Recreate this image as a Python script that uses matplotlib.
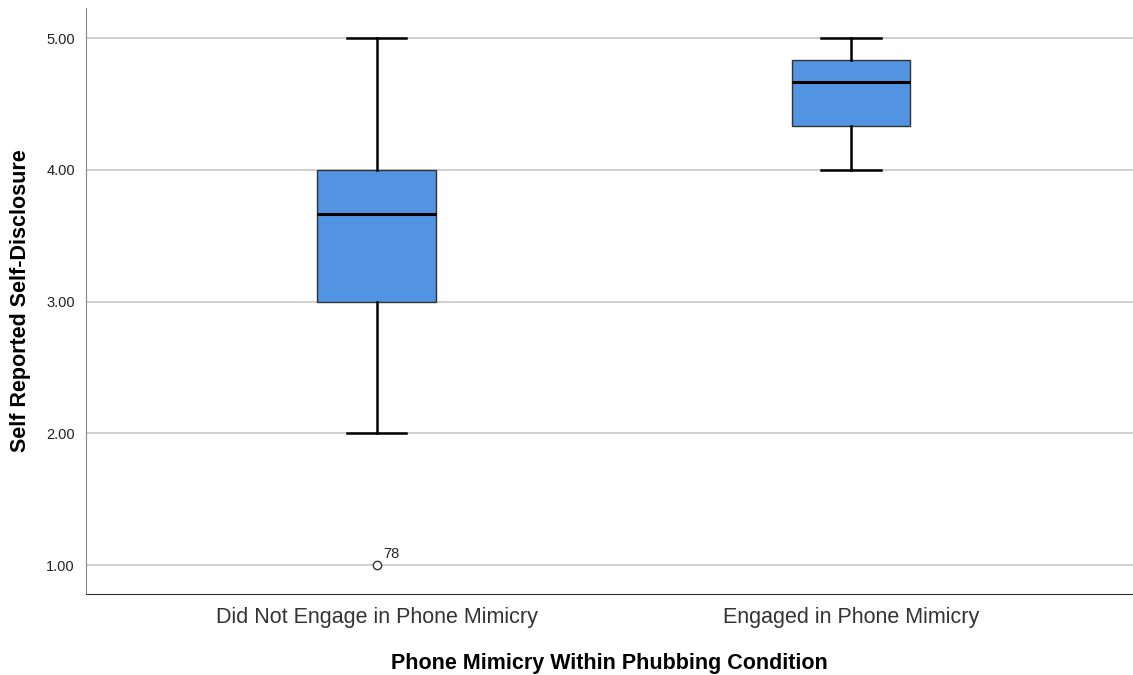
import matplotlib
matplotlib.use('Agg')
import matplotlib.pyplot as plt

plt.rcParams['font.family'] = ['Liberation Sans', 'DejaVu Sans']

# five-number summaries per group
groups = ['Did Not Engage in Phone Mimicry', 'Engaged in Phone Mimicry']
whisker_low = [2.0, 4.0]
q1 = [3.0, 4.333]
median = [3.667, 4.667]
q3 = [4.0, 4.833]
whisker_high = [5.0, 5.0]
outliers = [[1.0], []]
outlier_ids = [['78'], []]

stats = []
for i, g in enumerate(groups):
    stats.append({'label': g, 'whislo': whisker_low[i], 'q1': q1[i], 'med': median[i],
                  'q3': q3[i], 'whishi': whisker_high[i], 'fliers': outliers[i]})

fig = plt.figure(figsize=(11.33, 6.75), dpi=100)
ax = fig.add_axes([0.076, 0.12, 0.924, 0.868])

positions = list(range(len(groups)))
ax.bxp(stats, positions=positions, widths=0.25, patch_artist=True, showfliers=True,
       boxprops=dict(facecolor='#5294e2', edgecolor='#333333', linewidth=1.0),
       medianprops=dict(color='black', linewidth=2.2),
       whiskerprops=dict(color='black', linewidth=1.8),
       capprops=dict(color='black', linewidth=1.8),
       capwidths=0.125,
       flierprops=dict(marker='o', markersize=6, markerfacecolor='white',
                       markeredgecolor='#333333', markeredgewidth=1.0))

for i, ids in enumerate(outlier_ids):
    for v, lab in zip(outliers[i], ids):
        ax.annotate(lab, (positions[i], v), xytext=(5, 5), textcoords='offset points',
                    fontsize=10.5, color='#222222')

ax.set_xlim(-0.612, 1.594)
ax.set_ylim(0.78, 5.228)
ax.set_yticks([1, 2, 3, 4, 5])
ax.set_yticklabels([f'{v:.2f}' for v in [1, 2, 3, 4, 5]], fontsize=10.5, color='#222222')
ax.set_xticks(positions)
ax.set_xticklabels(groups, fontsize=15.5, color='#333333')
ax.tick_params(axis='both', length=0)
ax.tick_params(axis='y', pad=8)
ax.tick_params(axis='x', pad=9)

ax.yaxis.grid(True, color='#c8c8c8', linewidth=1.2)
ax.set_axisbelow(True)
for s in ['top', 'right']:
    ax.spines[s].set_visible(False)
ax.spines['left'].set_color('#888888')
ax.spines['bottom'].set_color('#333333')

ax.set_xlabel('Phone Mimicry Within Phubbing Condition', fontsize=15.5, fontweight='bold', labelpad=18)
ax.set_ylabel('Self Reported Self-Disclosure', fontsize=15.5, fontweight='bold', labelpad=11)

fig.savefig('out.png', dpi=100, facecolor='white')
